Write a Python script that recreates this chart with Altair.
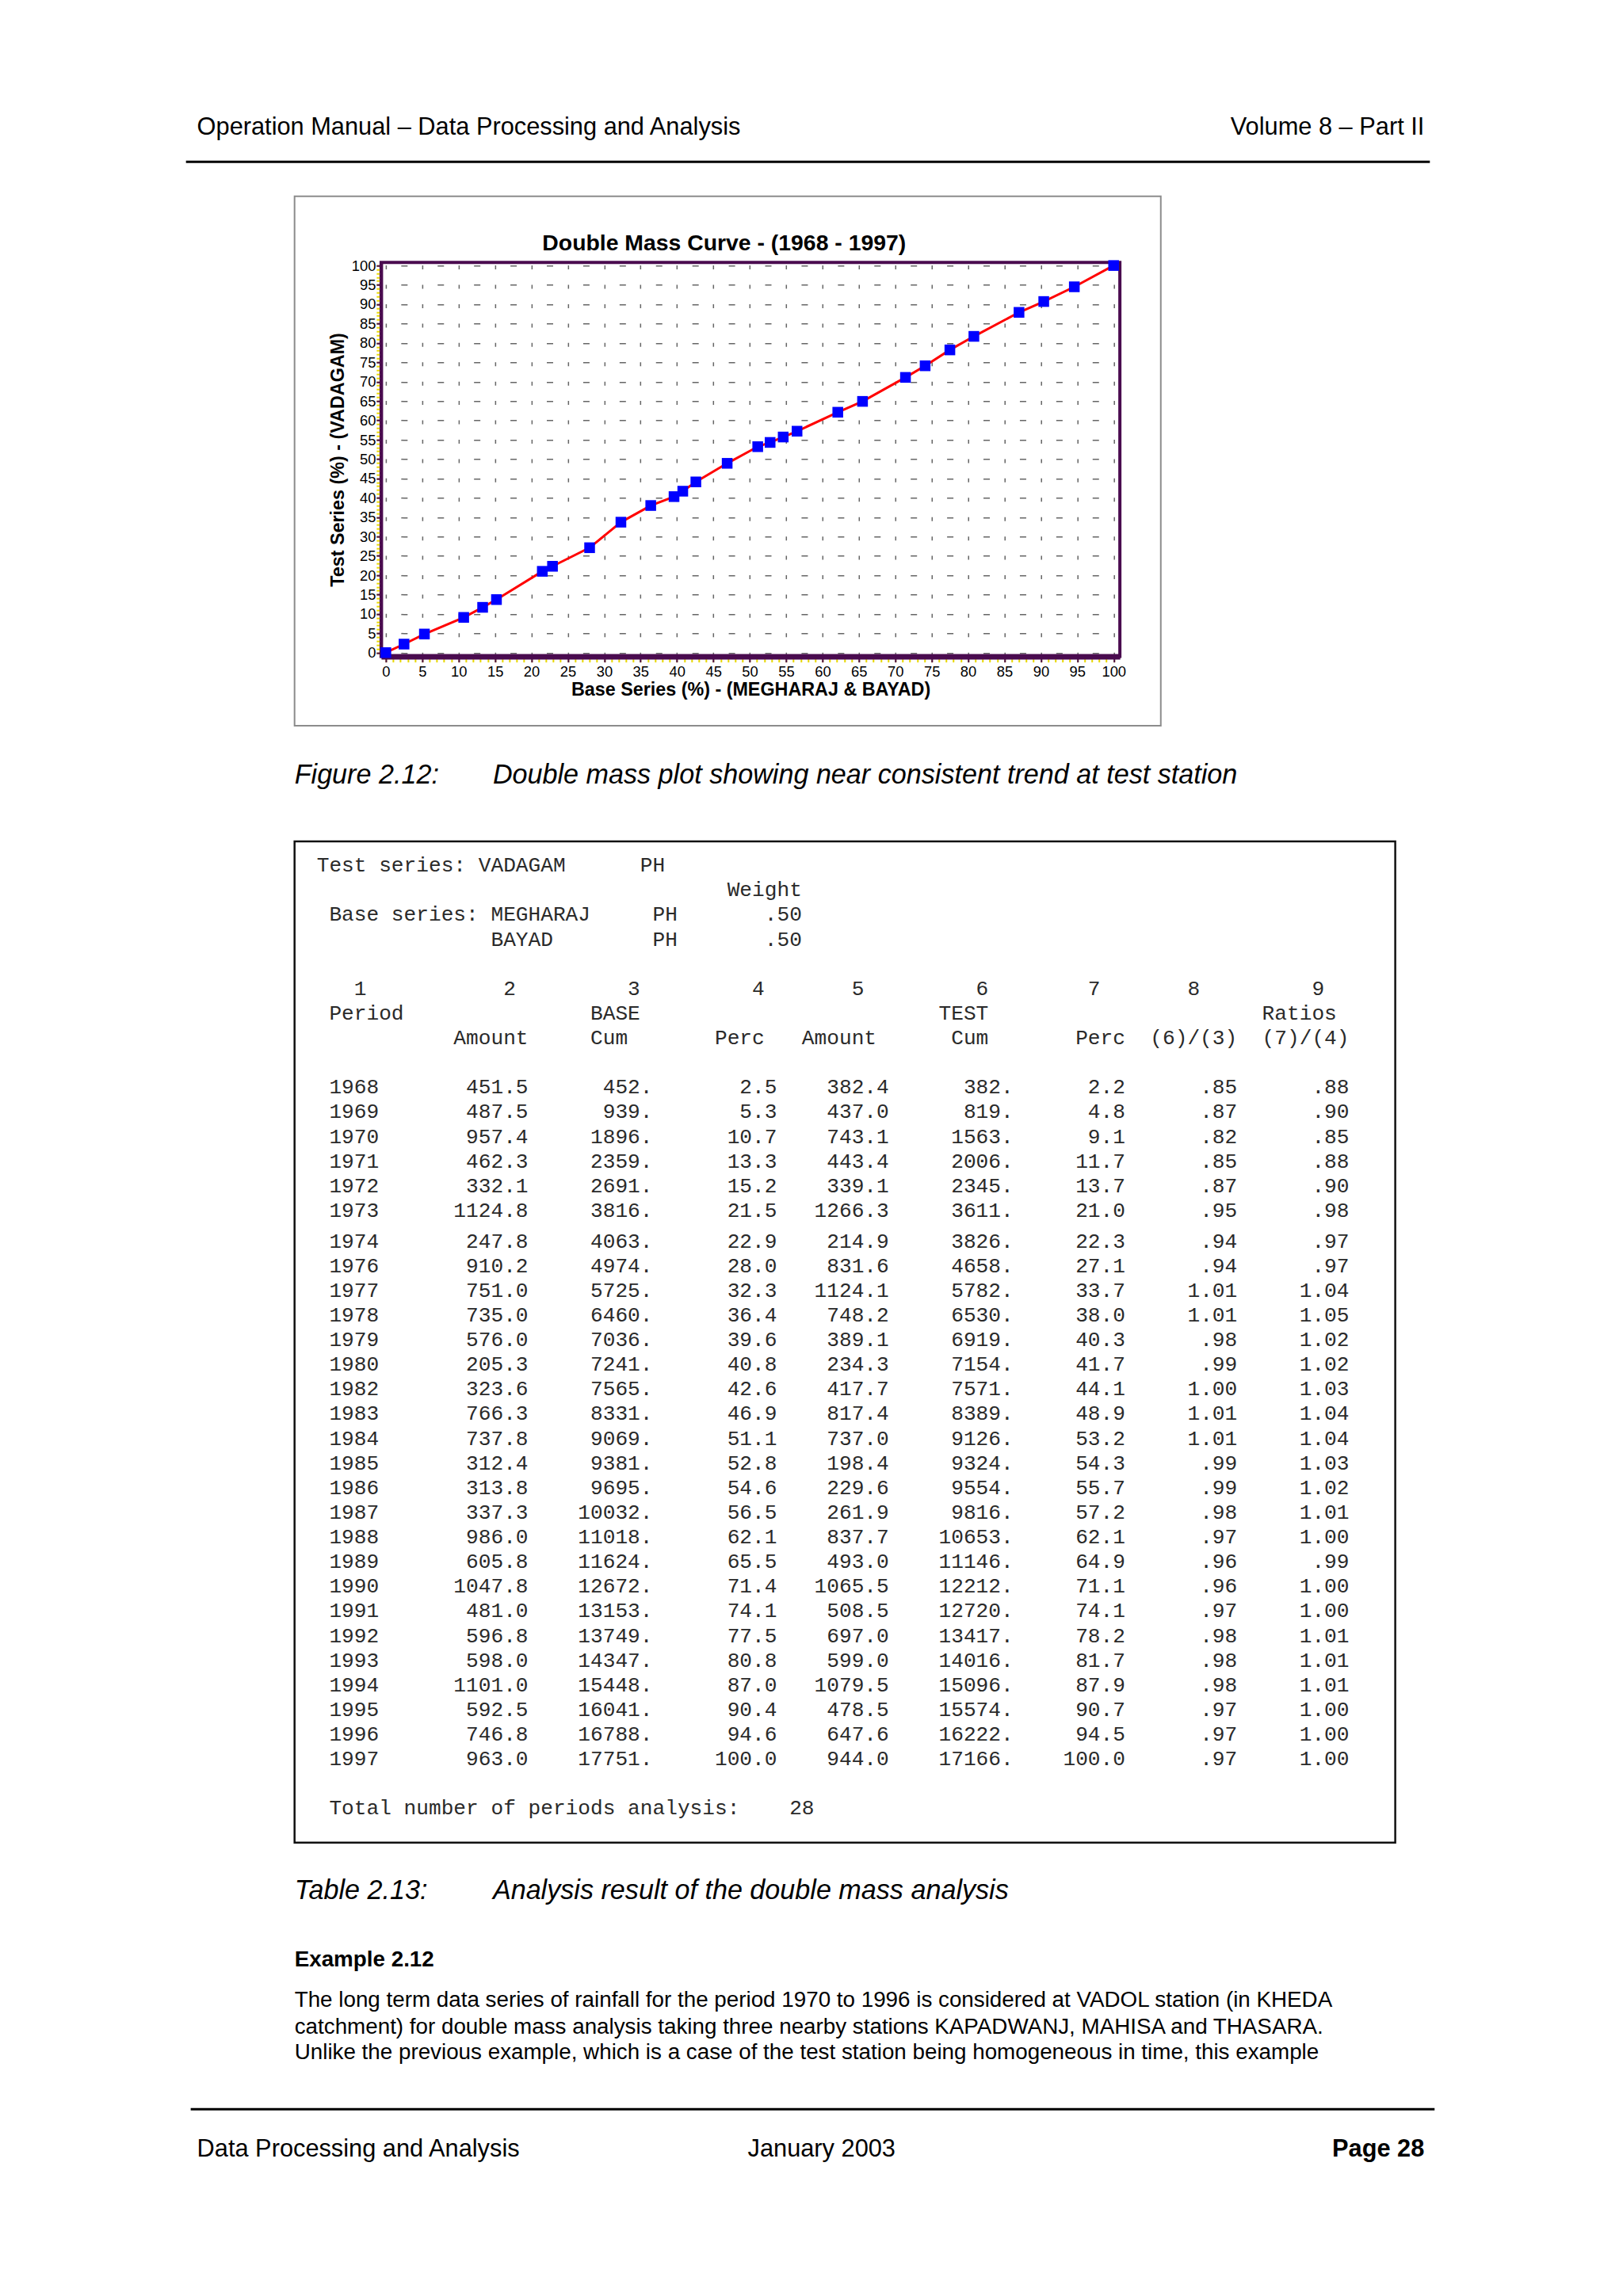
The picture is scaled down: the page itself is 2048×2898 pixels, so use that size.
import altair as alt
import pandas as pd

# ---------------- data ----------------
years = [1968, 1969, 1970, 1971, 1972, 1973, 1974, 1976, 1977, 1978, 1979, 1980, 1982, 1983,
         1984, 1985, 1986, 1987, 1988, 1989, 1990, 1991, 1992, 1993, 1994, 1995, 1996, 1997]
base_amount = [451.5, 487.5, 957.4, 462.3, 332.1, 1124.8, 247.8, 910.2, 751.0, 735.0, 576.0, 205.3,
               323.6, 766.3, 737.8, 312.4, 313.8, 337.3, 986.0, 605.8, 1047.8, 481.0, 596.8, 598.0,
               1101.0, 592.5, 746.8, 963.0]
base_cum = [452, 939, 1896, 2359, 2691, 3816, 4063, 4974, 5725, 6460, 7036, 7241, 7565, 8331,
            9069, 9381, 9695, 10032, 11018, 11624, 12672, 13153, 13749, 14347, 15448, 16041,
            16788, 17751]
base_perc = [2.5, 5.3, 10.7, 13.3, 15.2, 21.5, 22.9, 28.0, 32.3, 36.4, 39.6, 40.8, 42.6, 46.9,
             51.1, 52.8, 54.6, 56.5, 62.1, 65.5, 71.4, 74.1, 77.5, 80.8, 87.0, 90.4, 94.6, 100.0]
test_amount = [382.4, 437.0, 743.1, 443.4, 339.1, 1266.3, 214.9, 831.6, 1124.1, 748.2, 389.1,
               234.3, 417.7, 817.4, 737.0, 198.4, 229.6, 261.9, 837.7, 493.0, 1065.5, 508.5,
               697.0, 599.0, 1079.5, 478.5, 647.6, 944.0]
test_cum = [382, 819, 1563, 2006, 2345, 3611, 3826, 4658, 5782, 6530, 6919, 7154, 7571, 8389,
            9126, 9324, 9554, 9816, 10653, 11146, 12212, 12720, 13417, 14016, 15096, 15574,
            16222, 17166]
test_perc = [2.2, 4.8, 9.1, 11.7, 13.7, 21.0, 22.3, 27.1, 33.7, 38.0, 40.3, 41.7, 44.1, 48.9,
             53.2, 54.3, 55.7, 57.2, 62.1, 64.9, 71.1, 74.1, 78.2, 81.7, 87.9, 90.7, 94.5, 100.0]
ratio_cum = [.85, .87, .82, .85, .87, .95, .94, .94, 1.01, 1.01, .98, .99, 1.00, 1.01, 1.01, .99,
             .99, .98, .97, .96, .96, .97, .98, .98, .98, .97, .97, .97]
ratio_perc = [.88, .90, .85, .88, .90, .98, .97, .97, 1.04, 1.05, 1.02, 1.02, 1.03, 1.04, 1.04,
              1.03, 1.02, 1.01, 1.00, .99, 1.00, 1.00, 1.01, 1.01, 1.01, 1.00, 1.00, 1.00]
test_station = "VADAGAM"
base_stations = ["MEGHARAJ", "BAYAD"]
base_weights = [.50, .50]
axis_ticks = list(range(0, 101, 5))
minor_ticks = list(range(0, 101, 1))

# ---------------- layout helpers ----------------
K = 0.993                  # global layout scale
OX, OY = 484, 333          # page position of the plot-area origin (reference pixels)
W, H = 939 * K, 501 * K    # plot area
SANS = "Liberation Sans"
MONO = "Liberation Mono"
PURPLE = "#4a0b4f"
NB = "\u00a0"


def px(x):
    return K * (x - OX)


def py(y):
    return K * (y - OY)


def one(t=""):
    return alt.Data(values=[{"t": t}])


def label(text, x, y, size, weight="normal", style="normal", align="left", color="black"):
    return alt.Chart(one(text)).mark_text(
        align=align, baseline="middle", font=SANS, fontSize=size * K,
        fontWeight=weight, fontStyle=style, color=color
    ).encode(x=alt.value(px(x)), y=alt.value(py(y)), text="t:N")


def hrule(x1, x2, y, width=3, color="black"):
    return alt.Chart(one()).mark_rule(color=color, strokeWidth=width).encode(
        x=alt.value(px(x1)), x2=alt.value(px(x2)), y=alt.value(py(y)))


def box(x1, x2, y1, y2, color, width):
    return alt.Chart(one()).mark_rect(filled=False, stroke=color, strokeWidth=width).encode(
        x=alt.value(px(x1)), x2=alt.value(px(x2)), y=alt.value(py(y1)), y2=alt.value(py(y2)))


# invisible page frame: fixes the svg origin at the page margin
page_frame = alt.Chart(one()).mark_rect(color="white", opacity=0).encode(
    x=alt.value(8 - K * OX), x2=alt.value(2040 - K * OX),
    y=alt.value(8 - K * OY), y2=alt.value(2890 - K * OY))

# ---------------- the double mass plot ----------------
pts = pd.DataFrame({
    "base": [0.0] + base_perc,
    "test": [0.0] + test_perc,
    "order": list(range(len(base_perc) + 1)),
})
xs = alt.Scale(domain=[-0.65, 100.86], nice=False, zero=False)
ys = alt.Scale(domain=[-1.0, 100.8], nice=False, zero=False)
ux = W / (100.86 + 0.65)   # px per x unit
uy = H / (100.8 + 1.0)     # px per y unit

x_main = alt.Axis(
    values=axis_ticks, orient="bottom", grid=True, gridColor="#666666", gridWidth=1.5,
    gridDash=[5, 5 * uy - 5], gridDashOffset=5 * uy - (1.0 * uy - 1.5),
    tickColor=PURPLE, tickSize=7, tickWidth=2, domainColor=PURPLE, domainWidth=7,
    labelFont=SANS, labelFontSize=18.5 * K, labelColor="black", labelPadding=3,
    title="Base Series (%) - (MEGHARAJ & BAYAD)", titleFont=SANS, titleFontSize=23.5 * K,
    titleFontWeight="bold", titleColor="black", titlePadding=3)
y_main = alt.Axis(
    values=axis_ticks, orient="left", grid=True, gridColor="#666666", gridWidth=1.5,
    gridDash=[8, 5 * ux - 8], gridDashOffset=5 * ux - ((0.65 + 2.5) * ux - 4),
    tickColor=PURPLE, tickSize=6, tickWidth=2, domainColor=PURPLE, domainWidth=4,
    labelFont=SANS, labelFontSize=18.5 * K, labelColor="black", labelPadding=1,
    title="Test Series (%) - (VADAGAM)", titleFont=SANS, titleFontSize=23.5 * K,
    titleFontWeight="bold", titleColor="black", titlePadding=5)
x_minor = alt.Axis(values=minor_ticks, orient="bottom", labels=False, domain=False, grid=False,
                   tickColor="#e8d800", tickSize=4, tickWidth=2, offset=3, title=None)
y_minor = alt.Axis(values=minor_ticks, orient="left", labels=False, domain=False, grid=False,
                   tickColor="#e8d800", tickSize=4, tickWidth=2, offset=2, title=None)

line = alt.Chart(pts).mark_line(color="#ff0000", strokeWidth=3).encode(
    x=alt.X("base:Q", scale=xs, axis=x_minor),
    y=alt.Y("test:Q", scale=ys, axis=y_minor),
    order="order:Q")
squares = alt.Chart(pts).mark_square(size=185 * K * K, color="#0000ff", opacity=1).encode(
    x=alt.X("base:Q", scale=xs, axis=x_main),
    y=alt.Y("test:Q", scale=ys, axis=y_main))
plot = alt.layer(line, squares).resolve_axis(x="independent", y="independent")

# ---------------- the analysis table (fixed-width printout) ----------------
def place(items):
    buf = [" "] * 90
    for col, txt in items:
        buf[col:col + len(txt)] = list(txt)
    return "".join(buf).rstrip()


def ratio(v):
    s = f"{v:.2f}"
    return s[1:] if s.startswith("0") else s


tbl = [
    (0, place([(0, "Test series:"), (13, test_station), (26, "PH")])),
    (1, place([(33, "Weight")])),
    (2, place([(1, "Base series:"), (14, base_stations[0]), (27, "PH"),
               (36, f"{base_weights[0]:.2f}"[1:])])),
    (3, place([(14, base_stations[1]), (27, "PH"), (36, f"{base_weights[1]:.2f}"[1:])])),
    (5, place([(3, "1"), (15, "2"), (25, "3"), (35, "4"), (43, "5"), (53, "6"), (62, "7"),
               (70, "8"), (80, "9")])),
    (6, place([(1, "Period"), (22, "BASE"), (50, "TEST"), (76, "Ratios")])),
    (7, place([(11, "Amount"), (22, "Cum"), (32, "Perc"), (39, "Amount"), (51, "Cum"),
               (61, "Perc"), (67, "(6)/(3)"), (76, "(7)/(4)")])),
]
for i in range(len(years)):
    row = (" " + f"{years[i]:4d}" + f"{base_amount[i]:12.1f}" + f"{base_cum[i]}.".rjust(10)
           + f"{base_perc[i]:10.1f}" + f"{test_amount[i]:9.1f}" + f"{test_cum[i]}.".rjust(10)
           + f"{test_perc[i]:9.1f}" + ratio(ratio_cum[i]).rjust(9) + ratio(ratio_perc[i]).rjust(9))
    tbl.append((9 + i + (0.24 if i >= 6 else 0.0), row))
tbl.append((9 + len(years) + 1.24,
            place([(1, "Total number of periods analysis:"), (38, str(len(years)))])))

tbl_df = pd.DataFrame({
    "pos": [p for p, _ in tbl],
    "col": [len(s) - len(s.lstrip(" ")) for _, s in tbl],
    "line": [s.lstrip(" ").replace(" ", NB) for _, s in tbl],
})
CW = 15.81                 # character advance in the printout (reference pixels)
LINE0, PITCH = 1099.5, 31.35
table_text = alt.Chart(tbl_df).mark_text(
    align="left", baseline="middle", font=MONO, fontSize=CW / 0.6 * K, color="#2a2a2a"
).encode(
    x=alt.X("col:Q", axis=None,
            scale=alt.Scale(domain=[0, 100], nice=False, zero=False,
                            range=[px(402.2), px(402.2 + 100 * CW)])),
    y=alt.Y("pos:Q", axis=None,
            scale=alt.Scale(domain=[0, 40], nice=False, zero=False,
                            range=[py(LINE0), py(LINE0 + 40 * PITCH)])),
    text="line:N")

# ---------------- page text ----------------
layers = [
    page_frame,
    label("Operation Manual \u2013 Data Processing and Analysis", 250, 162, 31),
    label("Volume 8 \u2013 Part II", 1810, 162, 31, align="right"),
    hrule(236, 1817, 205, 3),
    box(374, 1475, 249, 922, "#8c8c8c", 2),
    label("Double Mass Curve - (1968 - 1997)", 920, 309, 28.6, weight="bold", align="center"),
    plot,
    label("Figure 2.12:", 374, 985, 34.4, style="italic"),
    label("Double mass plot showing near consistent trend at test station", 626, 985, 34.4,
          style="italic"),
    box(374, 1773, 1069, 2342, "#111111", 2.5),
    table_text,
    label("Table 2.13:", 374, 2404, 34.4, style="italic"),
    label("Analysis result of the double mass analysis", 626, 2404, 34.4, style="italic"),
    label("Example 2.12", 374, 2491, 28, weight="bold"),
    label("The long term data series of rainfall for the period 1970 to 1996 is considered at "
          "VADOL station (in KHEDA", 374, 2543, 28),
    label("catchment) for double mass analysis taking three nearby stations KAPADWANJ, MAHISA "
          "and THASARA.", 374, 2577, 28),
    label("Unlike the previous example, which is a case of the test station being homogeneous "
          "in time, this example", 374, 2609, 28),
    hrule(242, 1823, 2681, 3),
    label("Data Processing and Analysis", 250, 2732, 31),
    label("January 2003", 950, 2732, 31),
    label("Page 28", 1810, 2732, 31, weight="bold", align="right"),
]

chart = alt.layer(*layers).resolve_scale(x="independent", y="independent").properties(
    width=W, height=H, padding=0, background="white"
).configure_view(stroke=PURPLE, strokeWidth=4)

chart.save("out.html", embed_options={"renderer": "svg", "actions": False})
